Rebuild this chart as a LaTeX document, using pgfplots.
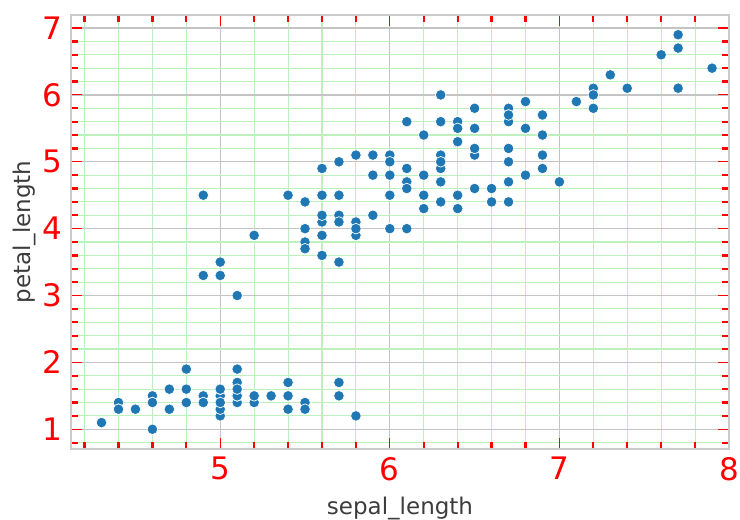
\documentclass[border=0pt]{standalone}
\usepackage{pgfplots}
\pgfplotsset{compat=1.18}
\usepackage{fontspec}
\setmainfont{DejaVu Sans}
\definecolor{mblue}{RGB}{31,119,180}
\definecolor{spine}{RGB}{204,204,204}
\definecolor{mgrid}{RGB}{196,196,196}
\definecolor{ngrid}{RGB}{190,240,190}
\definecolor{lab}{RGB}{60,60,60}
\begin{document}
\begin{tikzpicture}
\useasboundingbox (-71pt,-71pt) rectangle (669pt,449pt);
\begin{axis}[
  at={(0,0)}, anchor=south west,
  scale only axis, width=658pt, height=434pt,
  xmin=4.12, xmax=8.0, ymin=0.705, ymax=7.195,
  xtick={5,6,7,8}, ytick={1,2,3,4,5,6,7},
  minor xtick={4.2,4.4,4.6,4.8,5.2,5.4,5.6,5.8,6.2,6.4,6.6,6.8,7.2,7.4,7.6,7.8},
  minor ytick={0.8,1.2,1.4,1.6,1.8,2.2,2.4,2.6,2.8,3.2,3.4,3.6,3.8,4.2,4.4,4.6,4.8,5.2,5.4,5.6,5.8,6.2,6.4,6.6,6.8,7.2},
  grid=both,
  major grid style={mgrid, line width=1.3pt},
  minor grid style={ngrid, line width=1.1pt},
  axis line style={spine, line width=1.8pt},
  tick align=inside,
  major tick length=11pt, minor tick length=7pt,
  major tick style={red, line width=1.1pt},
  minor tick style={red, line width=2.2pt},
  /pgf/number format/assume math mode=true,
  ticklabel style={red, font=\fontsize{31}{31}\selectfont, inner sep=0pt},
  xticklabel style={anchor=north, yshift=-8pt},
  yticklabel style={anchor=east, xshift=-9pt},
  xlabel={sepal\_length}, ylabel={petal\_length},
  xlabel style={at={(axis description cs:0.5,-0.152)}, anchor=base, inner sep=0pt, lab, font=\fontsize{23}{23}\selectfont},
  ylabel style={at={(axis description cs:-0.0608,0.5)}, anchor=base, inner sep=0pt, lab, font=\fontsize{23}{23}\selectfont},
]
\addplot[only marks, mark=*, mark size=5.3pt, mark options={fill=mblue, draw=white, line width=0.7pt}] table {
x y
5.1 1.4
4.9 1.4
4.7 1.3
4.6 1.5
5.0 1.4
5.4 1.7
4.6 1.4
5.0 1.5
4.4 1.4
4.9 1.5
5.4 1.5
4.8 1.6
4.8 1.4
4.3 1.1
5.8 1.2
5.7 1.5
5.4 1.3
5.1 1.4
5.7 1.7
5.1 1.5
5.4 1.7
5.1 1.5
4.6 1.0
5.1 1.7
4.8 1.9
5.0 1.6
5.0 1.6
5.2 1.5
5.2 1.4
4.7 1.6
4.8 1.6
5.4 1.5
5.2 1.5
5.5 1.4
4.9 1.5
5.0 1.2
5.5 1.3
4.9 1.4
4.4 1.3
5.1 1.5
5.0 1.3
4.5 1.3
4.4 1.3
5.0 1.6
5.1 1.9
4.8 1.4
5.1 1.6
4.6 1.4
5.3 1.5
5.0 1.4
7.0 4.7
6.4 4.5
6.9 4.9
5.5 4.0
6.5 4.6
5.7 4.5
6.3 4.7
4.9 3.3
6.6 4.6
5.2 3.9
5.0 3.5
5.9 4.2
6.0 4.0
6.1 4.7
5.6 3.6
6.7 4.4
5.6 4.5
5.8 4.1
6.2 4.5
5.6 3.9
5.9 4.8
6.1 4.0
6.3 4.9
6.1 4.7
6.4 4.3
6.6 4.4
6.8 4.8
6.7 5.0
6.0 4.5
5.7 3.5
5.5 3.8
5.5 3.7
5.8 3.9
6.0 5.1
5.4 4.5
6.0 4.5
6.7 4.7
6.3 4.4
5.6 4.1
5.5 4.0
5.5 4.4
6.1 4.6
5.8 4.0
5.0 3.3
5.6 4.2
5.7 4.2
5.7 4.2
6.2 4.3
5.1 3.0
5.7 4.1
6.3 6.0
5.8 5.1
7.1 5.9
6.3 5.6
6.5 5.8
7.6 6.6
4.9 4.5
7.3 6.3
6.7 5.8
7.2 6.1
6.5 5.1
6.4 5.3
6.8 5.5
5.7 5.0
5.8 5.1
6.4 5.3
6.5 5.5
7.7 6.7
7.7 6.9
6.0 5.0
6.9 5.7
5.6 4.9
7.7 6.7
6.3 4.9
6.7 5.7
7.2 6.0
6.2 4.8
6.1 4.9
6.4 5.6
7.2 5.8
7.4 6.1
7.9 6.4
6.4 5.6
6.3 5.1
6.1 5.6
7.7 6.1
6.3 5.6
6.4 5.5
6.0 4.8
6.9 5.4
6.7 5.6
6.9 5.1
5.8 5.1
6.8 5.9
6.7 5.7
6.7 5.2
6.3 5.0
6.5 5.2
6.2 5.4
5.9 5.1
};
\end{axis}
\end{tikzpicture}
\end{document}
